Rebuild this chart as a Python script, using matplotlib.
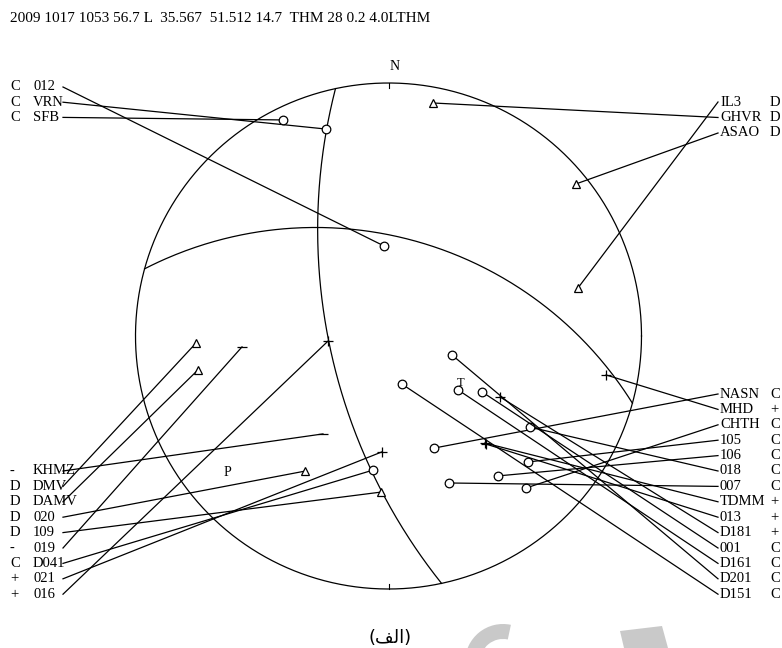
import numpy as np
import matplotlib.pyplot as plt
from matplotlib.patches import Wedge, Polygon

plt.rcParams['font.family'] = ['Liberation Serif', 'DejaVu Sans']

header = "2009 1017 1053 56.7 L  35.567  51.512 14.7  THM 28 0.2 4.0LTHM"

# nodal planes, strike / dip in degrees
plane_strike = [167.9, 285.4]
plane_dip = [63.5, 47.4]

# stations, lower hemisphere stereographic net coords (x east, y north)
lt_names = ["012", "VRN", "SFB"]
lt_pol = ["C", "C", "C"]
lt_x = [-0.018, -0.247, -0.417]
lt_y = [0.356, 0.818, 0.854]

rt_names = ["IL3", "GHVR", "ASAO"]
rt_pol = ["D", "D", "D"]
rt_x = [0.749, 0.176, 0.741]
rt_y = [0.190, 0.921, 0.601]

lb_names = ["KHMZ", "DMV", "DAMV", "020", "109", "019", "D041", "021", "016"]
lb_pol = ["-", "D", "D", "D", "D", "-", "C", "+", "+"]
lb_x = [-0.259, -0.761, -0.753, -0.330, -0.030, -0.579, -0.061, -0.026, -0.239]
lb_y = [-0.387, -0.028, -0.134, -0.534, -0.617, -0.043, -0.530, -0.458, -0.020]

rb_names = ["NASN", "MHD", "CHTH", "105", "106", "018", "007", "TDMM", "013",
            "D181", "001", "D161", "D201", "D151"]
rb_pol = ["C", "+", "C", "C", "C", "C", "C", "+", "+", "+", "C", "C", "C", "C"]
rb_x = [0.180, 0.860, 0.543, 0.551, 0.433, 0.559, 0.239, 0.381, 0.385,
        0.441, 0.370, 0.275, 0.251, 0.053]
rb_y = [-0.443, -0.154, -0.601, -0.498, -0.553, -0.360, -0.581, -0.423, -0.427,
        -0.241, -0.221, -0.213, -0.075, -0.190]

# P and T axes labels
axis_lbl = ["P", "T"]
axis_x = [-0.636, 0.283]
axis_y = [-0.538, -0.186]

caption = "(\ufed2\ufedf\ufe8d)"   # (الف)

CX, CY, R = 388.5, 336.0, 253.0
marker_of = {"C": "o", "D": "^", "+": "+", "-": "_"}


def to_px(x, y):
    return CX + R * np.asarray(x), CY - R * np.asarray(y)


fig = plt.figure(figsize=(7.82, 6.48), dpi=100)
ax = fig.add_axes([0, 0, 1, 1])
ax.set_xlim(0, 782)
ax.set_ylim(648, 0)
ax.axis("off")

# light grey logo fragments along the bottom edge
ax.add_patch(Wedge((503, 662), 38, 180, 282, width=15, color="#c9c9c9", lw=0))
ax.add_patch(Polygon([(620, 631), (662, 626), (668, 648), (624, 648)],
                     closed=True, color="#c9c9c9", lw=0))

# net outline and N/S ticks
th = np.linspace(0, 2 * np.pi, 400)
ax.plot(CX + R * np.cos(th), CY + R * np.sin(th), color="k", lw=0.9)
ax.plot([CX, CX], [CY - R, CY - R + 5], color="k", lw=0.8)
ax.plot([CX, CX], [CY + R - 5, CY + R], color="k", lw=0.8)
ax.text(CX + 6, 67, "N", fontsize=10, ha="center", va="center")

# nodal planes
t = np.linspace(0, np.pi, 200)
for stk, dp in zip(plane_strike, plane_dip):
    s, d = np.radians(stk), np.radians(dp)
    dd = s + np.pi / 2
    e = np.cos(t) * np.sin(s) + np.sin(t) * np.cos(d) * np.sin(dd)
    n = np.cos(t) * np.cos(s) + np.sin(t) * np.cos(d) * np.cos(dd)
    z = np.sin(t) * np.sin(d)
    px, py = to_px(e / (1 + z), n / (1 + z))
    ax.plot(px, py, color="k", lw=0.9)

fs = 10.5


def draw_group(names, pols, xs, ys, y0, step, side):
    sx, sy = to_px(xs, ys)
    for i, (nm, pol) in enumerate(zip(names, pols)):
        row = y0 + i * step
        if side == "left":
            ax.text(10, row, pol, fontsize=fs, ha="left", va="center")
            ax.text(33, row, nm, fontsize=fs, ha="left", va="center")
            x0 = 63
        else:
            ax.text(720, row, nm, fontsize=fs, ha="left", va="center")
            ax.text(770, row, pol, fontsize=fs, ha="left", va="center")
            x0 = 718
        ax.plot([x0, sx[i]], [row, sy[i]], color="k", lw=0.9)
        ax.plot(sx[i], sy[i], marker=marker_of[pol], ms=7 if pol in "+-" else 6.2,
                mfc="white", mec="k", mew=0.9, color="k")


draw_group(lt_names, lt_pol, lt_x, lt_y, 87, 15.2, "left")
draw_group(rt_names, rt_pol, rt_x, rt_y, 102, 15.5, "right")
draw_group(lb_names, lb_pol, lb_x, lb_y, 471, 15.4, "left")
draw_group(rb_names, rb_pol, rb_x, rb_y, 394, 15.4, "right")

ax.text(10, 18, header, fontsize=11, ha="left", va="center")

ax_px, ax_py = to_px(axis_x, axis_y)
for lbl, x, y in zip(axis_lbl, ax_px, ax_py):
    ax.text(x, y, lbl, fontsize=10 if lbl == "P" else 9, ha="center", va="center")

ax.text(390, 638, caption, fontsize=13, family="DejaVu Sans", ha="center", va="center")

fig.savefig("out.png", dpi=100)
